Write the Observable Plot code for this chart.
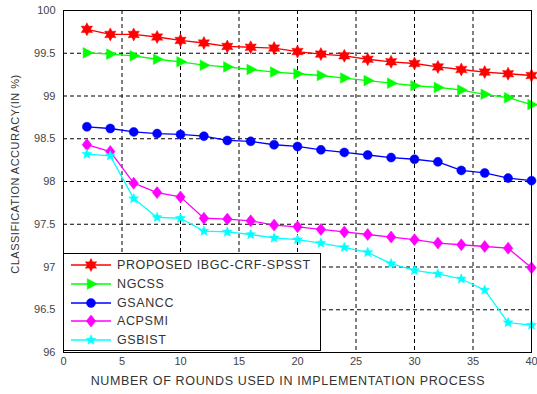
<!DOCTYPE html>
<html><head><meta charset="utf-8">
<script src="https://cdn.jsdelivr.net/npm/d3@7"></script>
<script src="https://cdn.jsdelivr.net/npm/@observablehq/plot@0.6"></script>
<style>
body{margin:0;background:#fff;font-family:"Liberation Sans",Arial,sans-serif}
#c{position:relative;width:537px;height:394px;overflow:hidden}
#legend{position:absolute;left:63px;top:253px;width:256px;height:96px;border:1.5px solid #000;background:#fff}
</style>
</head><body><div id="c"></div>
<script>
const rounds = [2,4,6,8,10,12,14,16,18,20,22,24,26,28,30,32,34,36,38,40];
const proposed = [99.78,99.72,99.72,99.69,99.65,99.62,99.58,99.57,99.56,99.52,99.49,99.47,99.43,99.40,99.38,99.34,99.31,99.28,99.26,99.24];
const ngcss    = [99.505,99.49,99.47,99.43,99.40,99.36,99.34,99.31,99.28,99.26,99.24,99.21,99.18,99.15,99.12,99.10,99.07,99.02,98.98,98.90];
const gsancc   = [98.64,98.62,98.58,98.56,98.55,98.53,98.48,98.47,98.43,98.41,98.37,98.34,98.31,98.28,98.26,98.23,98.13,98.10,98.04,98.01];
const acpsmi   = [98.43,98.35,97.98,97.87,97.82,97.57,97.56,97.54,97.49,97.47,97.44,97.41,97.38,97.35,97.32,97.28,97.26,97.24,97.22,96.99];
const gsbist   = [98.32,98.30,97.80,97.58,97.57,97.42,97.41,97.38,97.34,97.32,97.28,97.23,97.17,97.04,96.96,96.92,96.86,96.73,96.35,96.32];
const seriesNames = ["PROPOSED IBGC-CRF-SPSST","NGCSS","GSANCC","ACPSMI","GSBIST"];
const seriesValues = [proposed, ngcss, gsancc, acpsmi, gsbist];
const colors = ["#ff0000","#00ff00","#0000ff","#ff00ff","#00ffff"];
const xTicks = [0,5,10,15,20,25,30,35,40];
const yTicks = [96,96.5,97,97.5,98,98.5,99,99.5,100];
const xLabel = "NUMBER OF ROUNDS USED IN IMPLEMENTATION PROCESS";
const yLabel = "CLASSIFICATION ACCURACY(IN %)";

function star(n, inner, scale){
  return {draw(ctx, size){
    const R = Math.sqrt(size/Math.PI)*scale, ri = R*inner;
    for(let i=0;i<2*n;i++){
      const a = Math.PI*i/n - Math.PI/2, rr = i%2 ? ri : R;
      const x = rr*Math.cos(a), y = rr*Math.sin(a);
      i ? ctx.lineTo(x,y) : ctx.moveTo(x,y);
    }
    ctx.closePath();
  }};
}
const triRight = {draw(ctx,size){const r=Math.sqrt(size/Math.PI)*1.25;ctx.moveTo(r,0);ctx.lineTo(-r*0.6,-r*0.85);ctx.lineTo(-r*0.6,r*0.85);ctx.closePath();}};
const circ = {draw(ctx,size){const r=Math.sqrt(size/Math.PI);ctx.moveTo(r,0);ctx.arc(0,0,r,0,2*Math.PI);ctx.closePath();}};
const diam = {draw(ctx,size){const r=Math.sqrt(size/Math.PI)*1.2;ctx.moveTo(0,-r);ctx.lineTo(r*0.8,0);ctx.lineTo(0,r);ctx.lineTo(-r*0.8,0);ctx.closePath();}};
const symbols = [star(6,0.55,1.3), triRight, circ, diam, star(5,0.45,1.3)];
const radii = [5, 5, 4.5, 5, 4];

const data = seriesNames.flatMap((name,i)=>rounds.map((r,j)=>({round:r, acc:seriesValues[i][j], series:name, idx:i})));

const marks = [
  Plot.ruleX(xTicks.slice(1,-1), {stroke:"#000", strokeDasharray:"4,3", strokeWidth:1}),
  Plot.ruleY(yTicks.slice(1,-1), {stroke:"#000", strokeDasharray:"4,3", strokeWidth:1}),
  Plot.tickX(xTicks.slice(1,-1), {x:d=>d, stroke:"#000", frameAnchor:"bottom", inset:0}),
];
seriesNames.forEach((name,i)=>{
  const d = data.filter(e=>e.idx===i);
  marks.push(Plot.line(d,{x:"round",y:"acc",stroke:colors[i],strokeWidth:1.3}));
  marks.push(Plot.dot(d,{x:"round",y:"acc",fill:colors[i],stroke:colors[i],strokeWidth:0.5,symbol:symbols[i],r:radii[i]}));
});
marks.push(Plot.frame({stroke:"#000", strokeWidth:1}));
marks.splice(2,1);

const chart = Plot.plot({
  width:537, height:394, marginLeft:63, marginRight:6, marginTop:10, marginBottom:42,
  style:{fontFamily:"Liberation Sans, Arial, sans-serif", fontSize:"11px", color:"#444", background:"#fff"},
  x:{domain:[0,40], ticks:xTicks, tickSize:0, tickPadding:5, tickFormat:String, label:null},
  y:{domain:[96,100], ticks:yTicks, tickSize:0, tickPadding:8, tickFormat:String, label:null},
  marks
});
const c = document.getElementById("c");
c.appendChild(chart);

// axis titles
const s = d3.select(chart);
s.append("text").attr("x",288).attr("y",385).attr("text-anchor","middle").attr("fill","#333")
  .style("font-size","12.5px").style("letter-spacing","0.65px").text(xLabel);
s.append("text").attr("transform","translate(19,174) rotate(-90)").attr("text-anchor","middle").attr("fill","#333")
  .style("font-size","11px").style("letter-spacing","0.5px").text(yLabel);

// legend
const lg = document.createElement("div");
lg.id = "legend";
c.appendChild(lg);
const svg = d3.select(lg).append("svg").attr("width",256).attr("height",96);
const rowY = [11,30,49,67,86];
seriesNames.forEach((name,i)=>{
  const g = svg.append("g").attr("transform",`translate(0,${rowY[i]})`);
  g.append("line").attr("x1",7).attr("x2",47).attr("stroke",colors[i]).attr("stroke-width",1.3);
  g.append("path").attr("transform","translate(27,0)").attr("d",d3.symbol(symbols[i], Math.PI*radii[i]*radii[i])()).attr("fill",colors[i]).attr("stroke",colors[i]).attr("stroke-width",0.5);
  g.append("text").attr("x",53).attr("dy","0.35em").attr("fill","#333").style("font-size","12.5px").style("letter-spacing","0.6px").text(name);
});
</script>
</body></html>
